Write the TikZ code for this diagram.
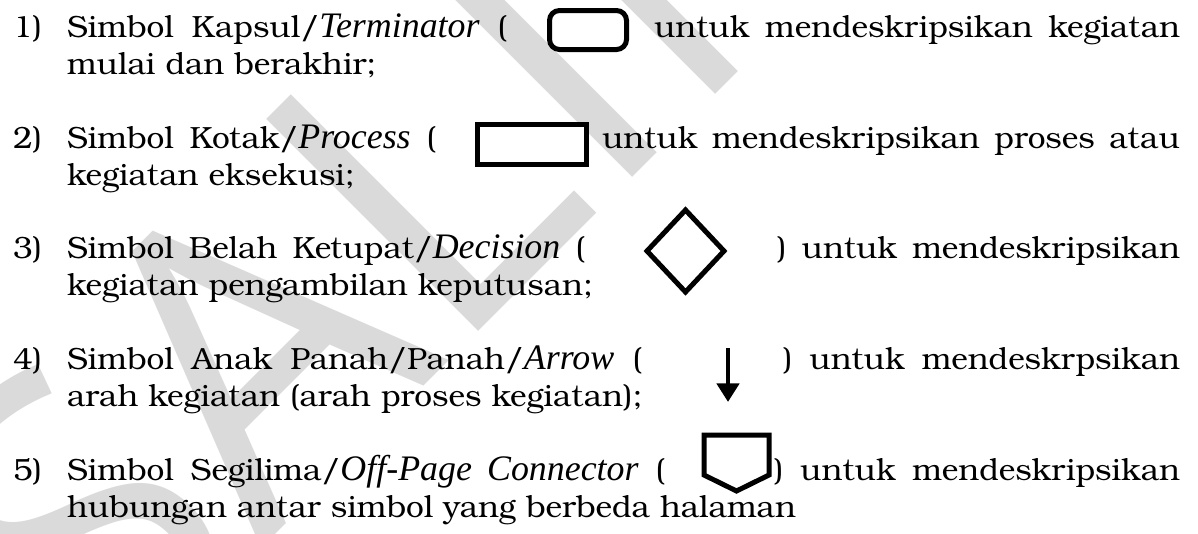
\documentclass[tikz,border=0pt]{standalone}
\usepackage{fontspec}
\setmainfont{TeX Gyre Bonum}[FakeStretch=1.03]
\newfontfamily\itf{Liberation Serif}[Scale=1.17]
\newfontfamily\wmfont{Open Sans}
\usetikzlibrary{arrows.meta}
\newlength\pxu
\setlength\pxu{0.75pt}
\newcommand\kur[1]{{\itf\itshape #1}}
\definecolor{wmgray}{HTML}{DADADA}
\tikzset{
  txt/.style={anchor=base west, inner sep=0pt, outer sep=0pt, font=\fontsize{23}{28}\selectfont},
  sym/.style={draw=black, line width=3.75pt, fill=white},
}
\begin{document}
\begin{tikzpicture}[x=0.75pt,y=-0.75pt]
\useasboundingbox (0,0) rectangle (1198,533);
% watermark
\node[rotate=45, text=wmgray, font=\wmfont\fontsize{315}{315}\selectfont, anchor=base west, inner sep=0pt] (wm) at (98,712) {SALINAN};
% item 1
\node[txt] (n1) at (13,37) {1)};
\node[txt] (a1) at (67,37) {\makebox[440\pxu][s]{Simbol Kapsul/\kur{Terminator} (}};
\node[sym, rounded corners=7.5pt, minimum width=57.75pt, minimum height=29.25pt, inner sep=0pt] (term) at (588,30) {};
\node[txt] (b1) at (654,37) {\makebox[526\pxu][s]{untuk mendeskripsikan kegiatan}};
\node[txt] (c1) at (67,74) {mulai dan berakhir;};
% item 2
\node[txt] (n2) at (13,148) {2)};
\node[txt] (a2) at (67,148) {\makebox[369\pxu][s]{Simbol Kotak/\kur{Process} (}};
\node[sym, minimum width=81.75pt, minimum height=30pt, inner sep=0pt] (proc) at (532,144.5) {};
\node[txt] (b2) at (602,148) {\makebox[578\pxu][s]{untuk mendeskripsikan proses atau}};
\node[txt] (c2) at (67,185) {kegiatan eksekusi;};
% item 3
\node[txt] (n3) at (13,258) {3)};
\node[txt] (a3) at (67,258) {\makebox[518\pxu][s]{Simbol Belah Ketupat/\kur{Decision} (}};
\draw[sym] (685.5,210) -- (724,251) -- (685.5,292) -- (647,251) -- cycle;
\node[txt] (b3) at (777,258) {\makebox[403\pxu][s]{) untuk mendeskripsikan}};
\node[txt] (c3) at (67,295) {kegiatan pengambilan keputusan;};
% item 4
\node[txt] (n4) at (13,369) {4)};
\node[txt] (a4) at (67,369) {\makebox[575\pxu][s]{Simbol Anak Panah/Panah/\kur{Arrow} (}};
\coordinate (ar1) at (728,348);
\coordinate (ar2) at (728,402);
\draw[line width=3.5pt, -{Triangle[length=14pt,width=16.5pt]}] (ar1) -- (ar2);
\node[txt] (b4) at (783,369) {\makebox[397\pxu][s]{) untuk mendeskrpsikan}};
\node[txt] (c4) at (67,406) {arah kegiatan (arah proses kegiatan);};
% item 5
\node[txt] (n5) at (13,480) {5)};
\node[txt] (a5) at (67,480) {\makebox[598\pxu][s]{Simbol Segilima/\kur{Off-Page Connector} (}};
\draw[sym, line join=miter] (704,435) -- (769,435) -- (769,475) -- (736.5,491) -- (704,475) -- cycle;
\node[txt] (b5) at (774,480) {\makebox[406\pxu][s]{) untuk mendeskripsikan}};
\node[txt] (c5) at (67,517) {hubungan antar simbol yang berbeda halaman};
\end{tikzpicture}
\end{document}
